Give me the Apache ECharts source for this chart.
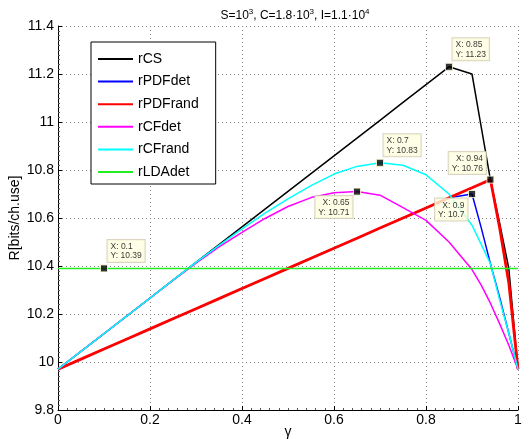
<!DOCTYPE html>
<html>
<head>
<meta charset="utf-8">
<script src="https://cdn.jsdelivr.net/npm/echarts@6/dist/echarts.min.js"></script>
<style>
  html, body { margin: 0; padding: 0; background: #fff; }
  #chart { width: 522px; height: 444px; }
</style>
</head>
<body>
<div id="chart"></div>
<script>
// Rate versus gamma for each scheme
const gamma = [0, 0.05, 0.1, 0.15, 0.2, 0.25, 0.3, 0.35, 0.4, 0.45, 0.5, 0.55, 0.6, 0.65, 0.7, 0.75, 0.8, 0.85, 0.9, 0.92, 0.94, 0.96, 0.98, 1];
const rCS      = [9.97, 10.044, 10.118, 10.192, 10.266, 10.341, 10.415, 10.489, 10.563, 10.637, 10.711, 10.785, 10.859, 10.933, 11.007, 11.082, 11.156, 11.23, 11.2, 10.98, 10.76, 10.58, 10.39, 9.97];
const rPDFdet  = [9.97, 10.012, 10.054, 10.096, 10.138, 10.18, 10.222, 10.264, 10.306, 10.348, 10.39, 10.432, 10.474, 10.516, 10.558, 10.6, 10.642, 10.684, 10.7, 10.56, 10.41, 10.27, 10.12, 9.97];
const rPDFrand = [9.97, 10.012, 10.054, 10.096, 10.138, 10.18, 10.222, 10.264, 10.306, 10.348, 10.39, 10.432, 10.474, 10.516, 10.558, 10.6, 10.642, 10.684, 10.726, 10.743, 10.76, 10.56, 10.33, 9.97];
const rCFdet   = [9.97, 10.044, 10.118, 10.192, 10.266, 10.34, 10.412, 10.48, 10.54, 10.598, 10.648, 10.685, 10.705, 10.71, 10.695, 10.643, 10.59, 10.5, 10.385, 10.32, 10.245, 10.16, 10.07, 9.97];
const rCFrand  = [9.97, 10.044, 10.118, 10.192, 10.266, 10.341, 10.415, 10.486, 10.555, 10.62, 10.68, 10.735, 10.783, 10.815, 10.83, 10.82, 10.78, 10.7, 10.57, 10.49, 10.41, 10.26, 10.12, 9.97];
const rLDAdet  = [10.39, 10.39, 10.39, 10.39, 10.39, 10.39, 10.39, 10.39, 10.39, 10.39, 10.39, 10.39, 10.39, 10.39, 10.39, 10.39, 10.39, 10.39, 10.39, 10.39, 10.39, 10.39, 10.39, 10.39];

const xTicks = [0, 0.2, 0.4, 0.6, 0.8, 1];
const yTicks = [9.8, 10, 10.2, 10.4, 10.6, 10.8, 11, 11.2, 11.4];

const seriesDefs = [
  { name: 'rCS',      values: rCS,      color: '#000000', width: 1.5 },
  { name: 'rPDFdet',  values: rPDFdet,  color: '#0000ff', width: 1.5 },
  { name: 'rPDFrand', values: rPDFrand, color: '#ff0000', width: 2.8 },
  { name: 'rCFdet',   values: rCFdet,   color: '#ff00ff', width: 1.5 },
  { name: 'rCFrand',  values: rCFrand,  color: '#00ffff', width: 1.5 },
  { name: 'rLDAdet',  values: rLDAdet,  color: '#22ee22', width: 1.5 }
];

// Data cursors: series name, gamma, and which side the tip box sits on
const tipSeries = ['rCS', 'rCFrand', 'rCFdet', 'rLDAdet', 'rPDFrand', 'rPDFdet'];
const tipGamma  = [0.85, 0.7, 0.65, 0.1, 0.94, 0.9];
const tipSide   = ['upRight', 'upRight', 'downLeft', 'upRight', 'upLeft', 'downLeft'];

const placement = {
  upRight:  { position: [7.5, -2.5], align: 'left',  verticalAlign: 'bottom' },
  upLeft:   { position: [-0.5, -1.5], align: 'right', verticalAlign: 'bottom' },
  downLeft: { position: [-0.5, 8.5], align: 'right', verticalAlign: 'top' }
};

const lineSeries = seriesDefs.map(d => ({
  name: d.name,
  type: 'line',
  data: gamma.map((g, i) => [g, d.values[i]]),
  showSymbol: false,
  symbol: 'none',
  lineStyle: { color: d.color, width: d.width },
  itemStyle: { color: d.color },
  emphasis: { disabled: true },
  animation: false
}));

const tipData = tipSeries.map((name, k) => {
  const def = seriesDefs.find(d => d.name === name);
  const idx = gamma.indexOf(tipGamma[k]);
  const y = def.values[idx];
  return {
    value: [tipGamma[k], y],
    label: Object.assign({}, placement[tipSide[k]])
  };
});

const font = 'Liberation Sans, Arial, sans-serif';

const tipSeriesOpt = {
  type: 'scatter',
  name: 'tips',
  data: tipData,
  symbol: 'rect',
  symbolSize: 7,
  z: 10,
  itemStyle: { color: '#000', borderColor: '#ffffd8', borderWidth: 1 },
  label: {
    show: true,
    formatter: p => 'X: ' + p.value[0] + '\nY: ' + p.value[1],
    fontFamily: font,
    fontSize: 8.5,
    lineHeight: 9.5,
    color: '#000',
    backgroundColor: '#ffffe1',
    borderColor: '#cfcbb0',
    borderWidth: 1,
    padding: [2, 3, 1, 3]
  },
  emphasis: { disabled: true },
  animation: false
};

const option = {
  backgroundColor: '#fff',
  animation: false,
  title: {
    text: '{n|S=10}{s|3}{n|, C=1.8·10}{s|3}{n|, I=1.1·10}{s|4}',
    left: 290,
    textAlign: 'center',
    top: 1,
    textStyle: {
      fontWeight: 'normal',
      rich: {
        n: { fontFamily: font, fontSize: 12, fontWeight: 'normal', color: '#000', lineHeight: 16, verticalAlign: 'bottom' },
        s: { fontFamily: font, fontSize: 8, fontWeight: 'normal', color: '#000', lineHeight: 16, verticalAlign: 'bottom', padding: [0, 0, 6, 0] }
      }
    }
  },
  legend: {
    left: 91,
    top: 42,
    orient: 'vertical',
    data: seriesDefs.map(d => d.name),
    icon: 'rect',
    itemWidth: 35,
    itemHeight: 2,
    itemGap: 8.6,
    padding: [10, 17, 5, 7],
    borderColor: '#000',
    borderWidth: 1,
    backgroundColor: '#fff',
    selectedMode: false,
    textStyle: { fontFamily: font, fontSize: 14, lineHeight: 14, color: '#000' }
  },
  grid: { left: 58, right: 4, top: 26, bottom: 34, containLabel: false, outerBoundsMode: 'none' },
  xAxis: {
    type: 'value',
    min: 0,
    max: 1,
    interval: 0.2,
    name: 'γ',
    nameLocation: 'middle',
    nameGap: 15,
    nameMoveOverlap: false,
    nameTextStyle: { fontFamily: font, fontSize: 14, color: '#000' },
    axisLine: { show: true, onZero: false, lineStyle: { color: '#000', width: 1 } },
    axisTick: { show: true, inside: true, length: 4, lineStyle: { color: '#000' } },
    minorTick: { show: true, splitNumber: 10, length: 2, lineStyle: { color: '#555' } },
    axisLabel: { fontFamily: font, fontSize: 14, color: '#000', margin: 3, formatter: v => String(+v.toFixed(1)) },
    splitLine: { show: true, lineStyle: { color: '#888', type: [1, 3], width: 1 } }
  },
  yAxis: {
    type: 'value',
    min: 9.8,
    max: 11.4,
    interval: 0.2,
    name: 'R[bits/ch.use]',
    nameLocation: 'middle',
    nameGap: 36,
    nameMoveOverlap: false,
    nameTextStyle: { fontFamily: font, fontSize: 14, color: '#000' },
    axisLine: { show: true, onZero: false, lineStyle: { color: '#000', width: 1 } },
    axisTick: { show: true, inside: true, length: 4, lineStyle: { color: '#000' } },
    minorTick: { show: true, splitNumber: 10, length: 2, lineStyle: { color: '#555' } },
    axisLabel: { fontFamily: font, fontSize: 14, color: '#000', margin: 4, formatter: v => String(+v.toFixed(1)) },
    splitLine: { show: true, lineStyle: { color: '#888', type: [1, 3], width: 1 } }
  },
  series: lineSeries.concat([tipSeriesOpt])
};

const chart = echarts.init(document.getElementById('chart'), null, { renderer: 'canvas' });
chart.setOption(option);
</script>
</body>
</html>
